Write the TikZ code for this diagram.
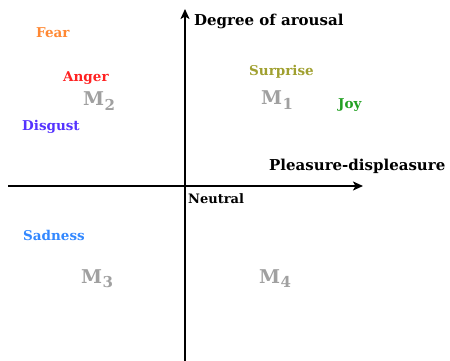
\documentclass[tikz,border=0pt]{standalone}
\usepackage{fontspec}
\setmainfont{DejaVu Serif}
\usetikzlibrary{arrows.meta}
\definecolor{cfear}{HTML}{FF8833}
\definecolor{canger}{HTML}{FF2222}
\definecolor{cdisgust}{HTML}{5533FF}
\definecolor{csurprise}{HTML}{A0A030}
\definecolor{cjoy}{HTML}{22A022}
\definecolor{csad}{HTML}{3388FF}
\definecolor{cm}{HTML}{A0A0A0}
\newcommand{\msub}[1]{M\kern0.5pt\raisebox{-4.5pt}{\fontsize{15}{15}\selectfont #1}}
\begin{document}
\begin{tikzpicture}[x=1pt,y=-1pt,
  axis/.style={line width=1.6pt,-{Stealth[length=10pt,width=9pt,inset=2.5pt]}},
  title/.style={font=\bfseries\fontsize{15}{15}\selectfont,inner sep=0pt,anchor=west},
  emo/.style={font=\bfseries\fontsize{13.5}{13.5}\selectfont,inner sep=0pt,anchor=west},
  mlab/.style={font=\bfseries\fontsize{19}{19}\selectfont,text=cm,inner sep=0pt,anchor=base west}]
\useasboundingbox (0,0) rectangle (450,361);
\coordinate (xs) at (8,186);
\coordinate (xe) at (363,186);
\coordinate (ys) at (185,361);
\coordinate (ye) at (185,9);
\draw[axis] (xs) -- (xe);
\draw[axis] (ys) -- (ye);
\node[title] (ty) at (194,21) {Degree of arousal};
\node[title] (tx) at (269,166) {Pleasure-displeasure};
\node[emo,font=\bfseries\fontsize{13}{13}\selectfont] (neu) at (188,199) {Neutral};
\node[emo,text=cfear] (fear) at (36,33) {Fear};
\node[emo,text=canger] (anger) at (63,78) {Anger};
\node[emo,text=cdisgust] (disgust) at (22,127) {Disgust};
\node[emo,text=csurprise] (surprise) at (249,72) {Surprise};
\node[emo,text=cjoy] (joy) at (338,105) {Joy};
\node[emo,text=csad] (sad) at (23,235) {Sadness};
\node[mlab] (m1) at (261,105) {\msub{1}};
\node[mlab] (m2) at (83,106) {\msub{2}};
\node[mlab] (m3) at (81,283) {\msub{3}};
\node[mlab] (m4) at (259,283) {\msub{4}};
\end{tikzpicture}
\end{document}
